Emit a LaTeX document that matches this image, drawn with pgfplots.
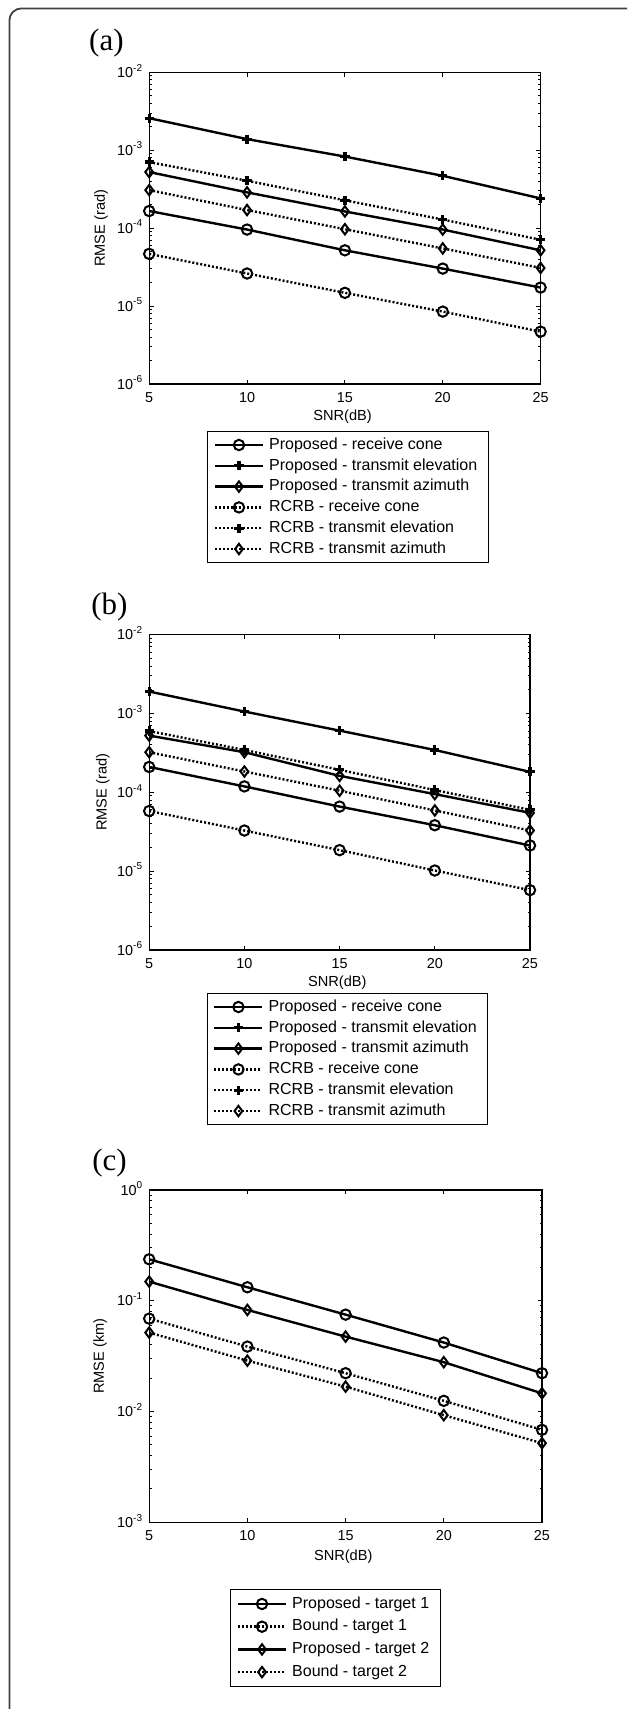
\documentclass[border=0pt]{standalone}
\usepackage{fontspec}
\setmainfont{Liberation Sans}
\newfontfamily\serif{Liberation Serif}
\usepackage{pgfplots}
\pgfplotsset{compat=1.18}
\pgfkeys{/pgf/number format/assume math mode=true}

\newcommand\sups[1]{\raisebox{0.85ex}{\fontsize{5}{5}\selectfont#1}}

\pgfplotsset{
  scale only axis,
  xmin=5, xmax=25, xtick={5,10,15,20,25},
  tick align=inside,
  major tick length=2.2pt, minor tick length=1.2pt,
  tick style={black, line width=0.5pt},
  axis line style={line width=0.6pt},
  ticklabel style={font=\fontsize{7.2}{8}\selectfont},
  xticklabel style={anchor=base, yshift=-9.2pt},
  yticklabel style={anchor=base east, yshift=-2.6pt},
  every axis label/.append style={font=\fontsize{7.3}{8}\selectfont},
  xlabel={SNR(dB)},
  legend cell align=left,
  legend style={font=\fontsize{8}{9}\selectfont, draw=black, line width=0.6pt,
    inner xsep=3pt, inner ysep=1.5pt, row sep=0pt,
    nodes={inner xsep=2.5pt, inner ysep=1.4pt, text height=5.9pt, text depth=1.7pt}},
  legend image code/.code={
    \draw[mark repeat=2, mark phase=2, #1] plot coordinates {(0pt,0pt) (12pt,0pt) (24pt,0pt)};
  },
  every axis plot/.append style={black, mark size=2.6pt},
  sol/.style={line width=1.2pt, mark options={solid, line width=1pt}},
  dot/.style={line width=1.2pt, dash pattern=on 1pt off 1pt, mark options={solid, line width=1pt}},
  cross/.style={mark=+, mark options={solid, line width=1.6pt, mark size=2.3pt}},
}

\begin{document}
\begin{tikzpicture}
\useasboundingbox (0,0) rectangle (313.5pt,-854.5pt);
\draw[line width=0.9pt, black!75, rounded corners=6pt] (313.5pt,-4.2pt) -- (4.7pt,-4.2pt) -- (4.7pt,-856pt);

% (a)
\node[anchor=west, font=\serif\fontsize{15.5}{16}\selectfont, inner sep=0pt] at (44.4pt,-21.7pt) {(a)};
\begin{axis}[ymode=log, at={(74.6pt,-192pt)}, anchor=south west,
  width=195.7pt, height=155.85pt,
  ymin=1e-6, ymax=1e-2,
  ytick={1e-6,1e-5,1e-4,1e-3,1e-2},
  yticklabels={10\sups{-6},10\sups{-5},10\sups{-4},10\sups{-3},10\sups{-2}},
  ylabel={RMSE (rad)},
  ylabel style={at={(axis description cs:-0.1232,0.5)}, anchor=center},
  xlabel style={at={(axis description cs:0.494,-0.1059)}, anchor=center},
  legend style={at={(0.508,-0.1508)}, anchor=north},
]
\addplot[sol, mark=o] coordinates {(5,1.66e-4) (10,9.6e-5) (15,5.2e-5) (20,3.03e-5) (25,1.73e-5)};
\addplot[sol, cross] coordinates {(5,2.58e-3) (10,1.39e-3) (15,8.3e-4) (20,4.7e-4) (25,2.41e-4)};
\addplot[sol, mark=diamond] coordinates {(5,5.25e-4) (10,2.88e-4) (15,1.64e-4) (20,9.6e-5) (25,5.2e-5)};
\addplot[dot, mark=o] coordinates {(5,4.68e-5) (10,2.62e-5) (15,1.48e-5) (20,8.5e-6) (25,4.7e-6)};
\addplot[dot, cross] coordinates {(5,7.05e-4) (10,4.06e-4) (15,2.28e-4) (20,1.29e-4) (25,7.1e-5)};
\addplot[dot, mark=diamond] coordinates {(5,3.08e-4) (10,1.71e-4) (15,9.7e-5) (20,5.5e-5) (25,3.09e-5)};
\legend{Proposed - receive cone, Proposed - transmit elevation, Proposed - transmit azimuth,
  RCRB - receive cone, RCRB - transmit elevation, RCRB - transmit azimuth}
\end{axis}

% (b)
\node[anchor=west, font=\serif\fontsize{15.5}{16}\selectfont, inner sep=0pt] at (45.5pt,-303.5pt) {(b)};
\begin{axis}[ymode=log, at={(74.6pt,-475pt)}, anchor=south west,
  width=190.4pt, height=157.65pt,
  ymin=1e-6, ymax=1e-2,
  ytick={1e-6,1e-5,1e-4,1e-3,1e-2},
  yticklabels={10\sups{-6},10\sups{-5},10\sups{-4},10\sups{-3},10\sups{-2}},
  ylabel={RMSE (rad)},
  ylabel style={at={(axis description cs:-0.1218,0.5)}, anchor=center},
  xlabel style={at={(axis description cs:0.494,-0.1034)}, anchor=center},
  legend style={at={(0.5207,-0.1364)}, anchor=north},
]
\addplot[sol, mark=o] coordinates {(5,2.10e-4) (10,1.19e-4) (15,6.6e-5) (20,3.83e-5) (25,2.12e-5)};
\addplot[sol, cross] coordinates {(5,1.90e-3) (10,1.06e-3) (15,6.07e-4) (20,3.45e-4) (25,1.82e-4)};
\addplot[sol, mark=diamond] coordinates {(5,5.25e-4) (10,3.23e-4) (15,1.62e-4) (20,9.5e-5) (25,5.5e-5)};
\addplot[dot, mark=o] coordinates {(5,5.8e-5) (10,3.28e-5) (15,1.85e-5) (20,1.02e-5) (25,5.75e-6)};
\addplot[dot, cross] coordinates {(5,6.0e-4) (10,3.45e-4) (15,1.93e-4) (20,1.07e-4) (25,6.0e-5)};
\addplot[dot, mark=diamond] coordinates {(5,3.23e-4) (10,1.84e-4) (15,1.05e-4) (20,5.9e-5) (25,3.28e-5)};
\legend{Proposed - receive cone, Proposed - transmit elevation, Proposed - transmit azimuth,
  RCRB - receive cone, RCRB - transmit elevation, RCRB - transmit azimuth}
\end{axis}

% (c)
\node[anchor=west, font=\serif\fontsize{15.5}{16}\selectfont, inner sep=0pt] at (46pt,-581.5pt) {(c)};
\begin{axis}[ymode=log, at={(74.6pt,-761.15pt)}, anchor=south west,
  width=196.4pt, height=166.15pt,
  ymin=1e-3, ymax=1,
  ytick={1e-3,1e-2,1e-1,1},
  yticklabels={10\sups{-3},10\sups{-2},10\sups{-1},10\sups{0}},
  ylabel={RMSE (km)},
  ylabel style={at={(axis description cs:-0.1253,0.5)}, anchor=center},
  xlabel style={at={(axis description cs:0.494,-0.1035)}, anchor=center},
  legend style={at={(0.4743,-0.2007)}, anchor=north,
    nodes={inner ysep=1.88pt}},
]
\addplot[sol, mark=o] coordinates {(5,0.237) (10,0.1325) (15,0.075) (20,0.042) (25,0.0222)};
\addplot[dot, mark=o] coordinates {(5,0.069) (10,0.0386) (15,0.0222) (20,0.0125) (25,0.00684)};
\addplot[sol, mark=diamond] coordinates {(5,0.149) (10,0.0827) (15,0.0475) (20,0.0279) (25,0.0146)};
\addplot[dot, mark=diamond] coordinates {(5,0.0516) (10,0.0288) (15,0.0168) (20,0.00927) (25,0.00518)};
\legend{Proposed - target 1, Bound - target 1, Proposed - target 2, Bound - target 2}
\end{axis}
\end{tikzpicture}
\end{document}
